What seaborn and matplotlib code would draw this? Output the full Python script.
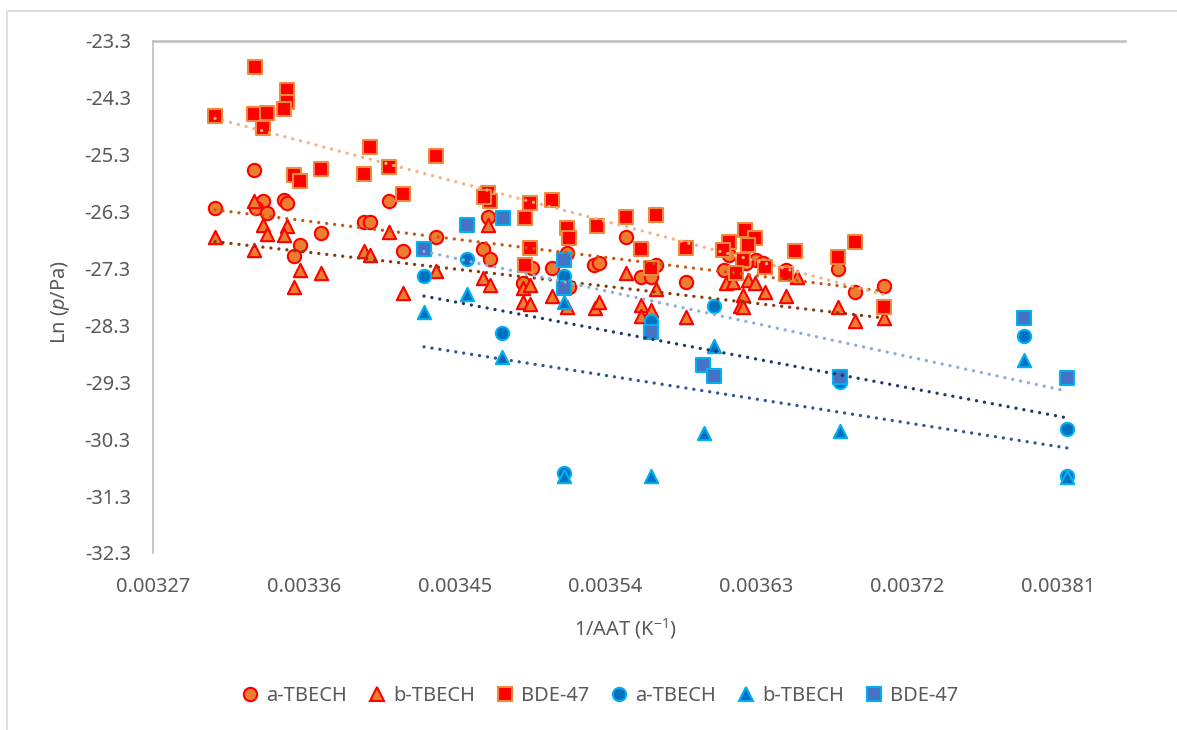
import matplotlib
matplotlib.use("Agg")
import matplotlib.pyplot as plt
from matplotlib.patches import Rectangle
from matplotlib.lines import Line2D
import pandas as pd
import seaborn as sns

# ---- data: 1/AAT (K^-1) vs ln(p/Pa) ----
# first data set (orange / red markers)
s1_a_x = [0.003307, 0.0033305, 0.0033355, 0.0033315, 0.003348, 0.00335, 0.003338, 0.003411,
          0.00337, 0.003358, 0.003354, 0.003396, 0.0033995, 0.003419, 0.003439, 0.00347,
          0.003467, 0.003471, 0.003496, 0.003508, 0.003491, 0.003517, 0.003533, 0.003536,
          0.003552, 0.003561, 0.003567, 0.00357, 0.003588, 0.003611, 0.003614, 0.003518,
          0.00363, 0.003634, 0.003648, 0.003679, 0.003689, 0.003706, 0.003624]
s1_a_y = [-26.24, -25.57, -26.12, -26.24, -26.09, -26.15, -26.33, -26.12,
          -26.67, -26.89, -27.08, -26.49, -26.49, -26.99, -26.74, -26.39,
          -26.96, -27.14, -27.29, -27.29, -27.56, -27.03, -27.24, -27.21,
          -26.75, -27.44, -27.45, -27.24, -27.53, -27.32, -27.06, -27.63,
          -27.15, -27.20, -27.32, -27.31, -27.72, -27.60, -27.21]

s1_b_x = [0.003307, 0.0033305, 0.0033305, 0.0033355, 0.003338, 0.00335, 0.003348, 0.003358,
          0.00337, 0.003354, 0.003396, 0.0033995, 0.003411, 0.003439, 0.003419, 0.00347,
          0.003467, 0.003471, 0.003491, 0.003495, 0.003491, 0.003495, 0.003508, 0.003517,
          0.003534, 0.003536, 0.003552, 0.003561, 0.003561, 0.003567, 0.00357, 0.003588,
          0.003612, 0.003616, 0.003625, 0.003629, 0.003622, 0.00362, 0.003622, 0.003635,
          0.003648, 0.003654, 0.003679, 0.003689, 0.003706]
s1_b_y = [-26.75, -26.12, -26.97, -26.53, -26.69, -26.56, -26.71, -27.32,
          -27.37, -27.62, -27.00, -27.06, -26.65, -27.35, -27.73, -26.53,
          -27.47, -27.59, -27.65, -27.59, -27.88, -27.92, -27.79, -27.97,
          -28.00, -27.88, -27.38, -27.94, -28.13, -28.03, -27.66, -28.15,
          -27.56, -27.53, -27.50, -27.55, -27.76, -27.96, -27.98, -27.72,
          -27.78, -27.44, -27.97, -28.22, -28.17]

s1_c_x = [0.003307, 0.003331, 0.0033305, 0.003338, 0.0033355, 0.00335, 0.00335, 0.003348,
          0.0033995, 0.003439, 0.003354, 0.003358, 0.00337, 0.003396, 0.003411, 0.003419,
          0.00347, 0.003471, 0.003495, 0.003508, 0.003492, 0.003517, 0.003518, 0.003535,
          0.003552, 0.00357, 0.003561, 0.003588, 0.003492, 0.003495, 0.003567, 0.003614,
          0.003623, 0.003629, 0.003625, 0.00361, 0.003622, 0.003635, 0.003618, 0.003648,
          0.003653, 0.003679, 0.003689, 0.003706, 0.0034675]
s1_c_y = [-24.61, -23.75, -24.58, -24.57, -24.83, -24.16, -24.37, -24.50,
          -25.17, -25.32, -25.66, -25.76, -25.55, -25.64, -25.52, -25.99,
          -25.98, -26.12, -26.15, -26.09, -26.42, -26.59, -26.77, -26.55,
          -26.39, -26.36, -26.96, -26.94, -27.24, -26.94, -27.29, -26.84,
          -26.63, -26.77, -26.89, -26.97, -27.15, -27.27, -27.38, -27.40,
          -26.99, -27.10, -26.83, -27.97, -26.04]

# second data set (blue markers)
s2_a_x = [0.0034317, 0.0034576, 0.0034785, 0.003515, 0.003515, 0.003567, 0.003605,
          0.00368, 0.00379, 0.0038153, 0.0038153]
s2_a_y = [-27.43, -27.14, -28.43, -27.43, -30.89, -28.23, -27.95, -29.30, -28.48, -30.12, -30.94]

s2_b_x = [0.0034317, 0.0034576, 0.0034785, 0.003515, 0.003515, 0.003567, 0.003605,
          0.003599, 0.00368, 0.00379, 0.0038153]
s2_b_y = [-28.07, -27.75, -28.86, -27.88, -30.95, -30.95, -28.67, -30.19, -30.15, -28.91, -30.96]

s2_c_x = [0.0034317, 0.0034576, 0.0034787, 0.003515, 0.003515, 0.003567, 0.003598,
          0.003605, 0.00368, 0.00379, 0.0038153]
s2_c_y = [-26.96, -26.53, -26.42, -27.15, -27.65, -28.41, -28.99, -29.18, -29.21, -28.17, -29.23]

compounds = ["a-TBECH", "b-TBECH", "BDE-47"]

x_ticks = [0.00327, 0.00336, 0.00345, 0.00354, 0.00363, 0.00372, 0.00381]
x_tick_labels = ["0.00327", "0.00336", "0.00345", "0.00354", "0.00363", "0.00372", "0.00381"]
y_ticks = [-32.3, -31.3, -30.3, -29.3, -28.3, -27.3, -26.3, -25.3, -24.3, -23.3]
y_tick_labels = ["-32.3", "-31.3", "-30.3", "-29.3", "-28.3", "-27.3", "-26.3", "-25.3", "-24.3", "-23.3"]

# ---- styling ----
sns.set_theme(style="white")
plt.rcParams["font.family"] = ["Noto Sans", "DejaVu Sans"]
plt.rcParams["mathtext.fontset"] = "custom"
plt.rcParams["mathtext.rm"] = "Noto Sans"
plt.rcParams["mathtext.it"] = "Noto Sans:italic"

TXT = "#595959"
FS = 14.4

# (name, x, y, marker, face, edge, trend colour)
series = [
    (compounds[0], s1_a_x, s1_a_y, "o", "#ED7D31", "#FF0000", "#C55A11"),
    (compounds[1], s1_b_x, s1_b_y, "^", "#ED7D31", "#FF0000", "#843C0C"),
    (compounds[2], s1_c_x, s1_c_y, "s", "#FF0000", "#F08A3E", "#F4B183"),
    (compounds[0], s2_a_x, s2_a_y, "o", "#0070C0", "#00B0F0", "#203864"),
    (compounds[1], s2_b_x, s2_b_y, "^", "#0070C0", "#00B0F0", "#2F5597"),
    (compounds[2], s2_c_x, s2_c_y, "s", "#4472C4", "#00B0F0", "#8FAADC"),
]

fig = plt.figure(figsize=(11.77, 7.30), dpi=100)
fig.patch.set_facecolor("white")
ax = fig.add_axes([153 / 1177, 1 - 553 / 730, 972 / 1177, 512 / 730])

for name, xs, ys, m, fc, ec, lc in series:
    d = pd.DataFrame({"x": xs, "y": ys})
    sns.scatterplot(data=d, x="x", y="y", marker=m, s=92, color=fc,
                    edgecolor=ec, linewidth=1.5, ax=ax, zorder=3, legend=False)

# linear trend lines drawn over the markers
for name, xs, ys, m, fc, ec, lc in series:
    d = pd.DataFrame({"x": xs, "y": ys})
    sns.regplot(data=d, x="x", y="y", scatter=False, ci=None, ax=ax, truncate=True,
                line_kws=dict(color=lc, lw=2.4, linestyle=(0, (0.01, 2.4)),
                              dash_capstyle="round", zorder=5))

ax.set_xlim(0.00327, 0.00385)
ax.set_ylim(-32.3, -23.3)
ax.set_xticks(x_ticks)
ax.set_xticklabels(x_tick_labels)
ax.set_yticks(y_ticks)
ax.set_yticklabels(y_tick_labels)
ax.tick_params(axis="both", length=0, labelsize=FS, colors=TXT)
ax.tick_params(axis="y", pad=16)
ax.tick_params(axis="x", pad=17.5)

for side in ("bottom", "right"):
    ax.spines[side].set_visible(False)
ax.spines["left"].set_color("#BFBFBF")
ax.spines["left"].set_linewidth(1.2)
ax.spines["top"].set_color("#BFBFBF")
ax.spines["top"].set_linewidth(1.8)
ax.grid(False)

ax.set_xlabel("1/AAT (K$^{-1}$)", fontsize=FS, color=TXT)
ax.set_ylabel("Ln ($\\mathit{p}$/Pa)", fontsize=FS, color=TXT)
ax.xaxis.set_label_coords((626 - 153) / 972, (553 - 629) / 512)
ax.xaxis.label.set_va("center")
ax.yaxis.set_label_coords((60 - 153) / 972, (553 - 302) / 512)
ax.yaxis.label.set_va("center")

handles = [Line2D([], [], linestyle="none", marker=m, markersize=9.6,
                  markerfacecolor=fc, markeredgecolor=ec, markeredgewidth=1.5, label=name)
           for name, xs, ys, m, fc, ec, lc in series]
leg = fig.legend(handles=handles, loc="center", ncol=6, frameon=False,
                 bbox_to_anchor=(600 / 1177, 1 - 696 / 730), fontsize=FS,
                 handlelength=0.8, handletextpad=0.4, columnspacing=1.1)
for t in leg.get_texts():
    t.set_color(TXT)

# outer chart border
fig.add_artist(Rectangle((7 / 1177, -0.1), 1.2, 1 - 11 / 730 + 0.1,
                         transform=fig.transFigure, fill=False,
                         edgecolor="#D9D9D9", linewidth=1.2))

fig.savefig("out.png", dpi=100)
